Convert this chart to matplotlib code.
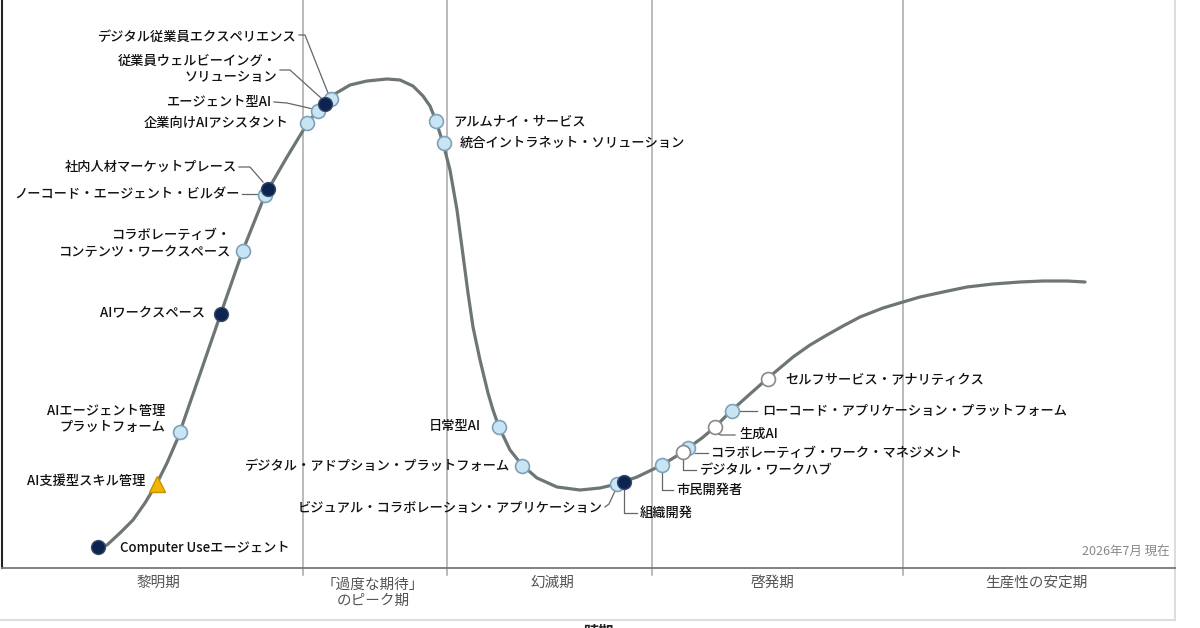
import matplotlib
matplotlib.use("Agg")
import matplotlib.pyplot as plt

plt.rcParams["font.family"] = ["Noto Sans CJK JP", "DejaVu Sans"]

# hype curve: time (x) vs expectations (y)
curve_x = [99, 107, 120, 133, 145, 157, 167, 177, 183, 200, 221, 243, 265, 287, 307,
           320, 333, 350, 367, 387, 400, 413, 423, 430, 436, 443, 450, 457, 463, 468,
           473, 480, 488, 493, 499, 510, 522, 537, 557, 580, 600, 617, 637, 662, 675,
           688, 702, 715, 731, 750, 768, 793, 810, 827, 843, 860, 883, 903, 920, 943,
           967, 993, 1020, 1043, 1067, 1085]
curve_y = [23, 25, 37, 50, 67, 87, 107, 130, 147, 196, 257, 320, 375, 413, 446,
           463, 475, 485, 489, 491, 490, 484, 474, 464, 449, 427, 400, 360, 315, 277,
           243, 210, 177, 160, 143, 120, 105, 92, 83, 80, 82, 86, 93, 105, 113,
           122, 132, 143, 159, 176, 192, 213, 225, 235, 244, 253, 262, 268, 273, 278,
           283, 286, 288, 289, 289, 288]

# technologies on the curve
tech = ["Computer Useエージェント", "AI支援型スキル管理", "AIエージェント管理\nプラットフォーム",
        "AIワークスペース", "コラボレーティブ・\nコンテンツ・ワークスペース",
        "ノーコード・エージェント・ビルダー", "社内人材マーケットプレース",
        "企業向けAIアシスタント", "エージェント型AI", "従業員ウェルビーイング・\nソリューション",
        "デジタル従業員エクスペリエンス", "アルムナイ・サービス", "統合イントラネット・ソリューション",
        "日常型AI", "デジタル・アドプション・プラットフォーム",
        "ビジュアル・コラボレーション・アプリケーション", "組織開発", "市民開発者",
        "デジタル・ワークハブ", "コラボレーティブ・ワーク・マネジメント", "生成AI",
        "ローコード・アプリケーション・プラットフォーム", "セルフサービス・アナリティクス"]
tech_x = [98, 157, 180, 221, 243, 265, 268, 307, 318, 325, 331, 436, 444, 499, 522,
          617, 624, 662, 683, 688, 715, 732, 768]
tech_y = [23, 86, 138, 256, 319, 375, 381, 447, 459, 466, 471, 449, 427, 143, 104,
          86, 88, 105, 118, 122, 143, 159, 191]
# benefit rating class per technology
rating = ["high", "tri", "mid", "high", "mid", "mid", "high", "mid", "mid", "high",
          "mid", "mid", "mid", "mid", "mid", "mid", "high", "mid", "low", "mid",
          "low", "mid", "low"]

phases = ["黎明期", "「過度な期待」\nのピーク期", "幻滅期", "啓発期", "生産性の安定期"]
phase_edges = [303, 447, 652, 903]
phase_mid = [158, 373, 552, 773, 1036]

# label layout: anchor, alignment, leader line
lab_pos = [(120, 22), (145, 89), (165, 151), (205, 258), (231, 327), (240, 376),
           (237, 403), (289, 447), (272, 468), (277, 501), (297, 533), (453, 449),
           (460, 427), (481, 144), (510, 104), (603, 62), (640, 57), (676, 80),
           (700, 100), (711, 117), (739, 136), (762, 159), (785, 190)]
lab_ha = ["left", "right", "right", "right", "right", "right", "right", "right", "right",
          "right", "right", "left", "left", "right", "right", "right", "left", "left",
          "left", "left", "left", "left", "left"]
leaders = {
    5: [(242, 376), (259, 376)],
    6: [(239, 403), (250, 403), (263, 388)],
    8: [(274, 468), (287, 467), (313, 461)],
    9: [(280, 500), (290, 500), (321, 472)],
    10: [(299, 535), (305, 535), (328, 477)],
    15: [(605, 63), (609, 66), (615, 79)],
    16: [(624, 80), (624, 57), (637, 57)],
    17: [(662, 98), (662, 80), (673, 80)],
    18: [(683, 111), (683, 100), (696, 100)],
    19: [(695, 117), (708, 117)],
    20: [(716, 137), (721, 135), (735, 135)],
    21: [(739, 159), (757, 159)],
}

styles = {
    "mid": dict(marker="o", ms=10, mfc="#c8e5f5", mec="#7ea3b8", mew=1.2, zorder=4),
    "low": dict(marker="o", ms=10, mfc="white", mec="#8a8a8a", mew=1.2, zorder=5),
    "high": dict(marker="o", ms=10, mfc="#0c2452", mec="#3a4a66", mew=1.0, zorder=6),
    "tri": dict(marker="^", ms=11, mfc="#f2b600", mec="#c79200", mew=1.0, zorder=6),
}

fig = plt.figure(figsize=(12, 6.28), dpi=100)
ax = fig.add_axes([2 / 1200, 60 / 628, 1173 / 1200, 568 / 628])
ax.set_xlim(2, 1175)
ax.set_ylim(2, 570)
ax.set_xticks([])
ax.set_yticks([])
for s in ["top", "right"]:
    ax.spines[s].set_visible(False)
ax.spines["left"].set_color("#222222")
ax.spines["left"].set_linewidth(1.5)
ax.spines["bottom"].set_color("#777777")
ax.spines["bottom"].set_linewidth(1.3)

# phase dividers and outer frame
for xe in phase_edges:
    ax.plot([xe, xe], [-5, 570], color="#a8a8a8", lw=1.1, clip_on=False, zorder=1)
ax.plot([1175, 1175], [-50, 570], color="#dddddd", lw=1.5, clip_on=False)
ax.plot([0, 1175], [-50, -50], color="#dddddd", lw=1.5, clip_on=False)

ax.plot(curve_x, curve_y, color="#6e7673", lw=2.3, solid_joinstyle="round",
        solid_capstyle="round", zorder=2)

for i, name in enumerate(tech):
    ax.plot(tech_x[i], tech_y[i], ls="none", **styles[rating[i]])
    tx, ty = lab_pos[i]
    ax.text(tx, ty, name, ha=lab_ha[i], va="center", fontsize=9.5, color="#111111",
            fontweight="medium", linespacing=1.25, zorder=7)
    if i in leaders:
        lx, ly = zip(*leaders[i])
        ax.plot(lx, ly, color="#666666", lw=0.9, zorder=3)

for name, xm in zip(phases, phase_mid):
    ax.text(xm, -22.5 if "\n" in name else -13, name, ha="center", va="center",
            fontsize=10.5, color="#555555", linespacing=1.2, clip_on=False)

ax.text(1170, 18, "2026年7月 現在", ha="right", va="center", fontsize=9, color="#888888")
ax.text(598, -54, "時期", ha="center", va="top", fontsize=11, fontweight="bold",
        color="#222222", clip_on=False)

fig.savefig("out.png", dpi=100)
